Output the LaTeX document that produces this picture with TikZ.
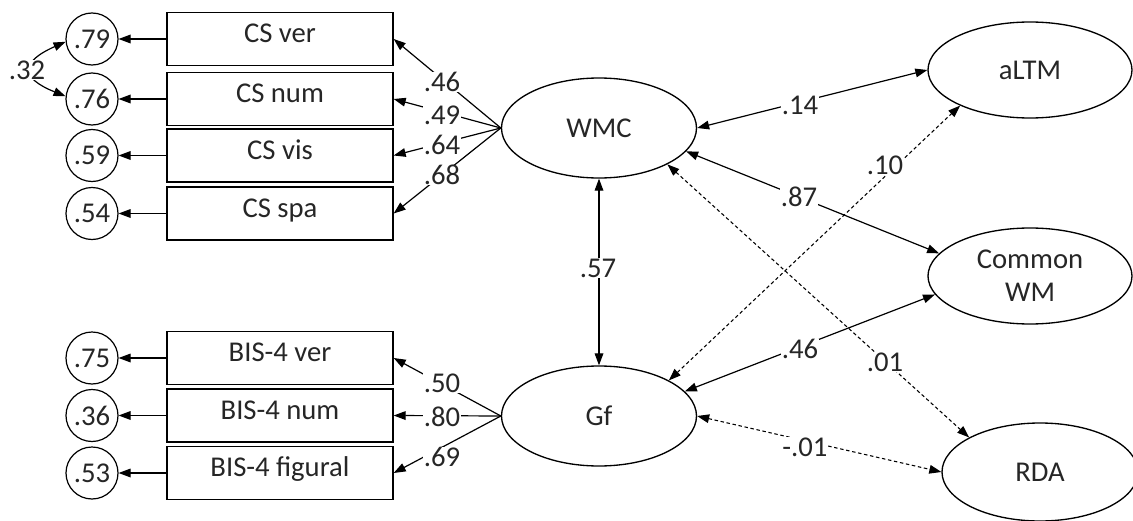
\documentclass[tikz,border=0pt]{standalone}
\usepackage{fontspec}
\setmainfont{Carlito}
\usetikzlibrary{arrows.meta,shapes.geometric}

\begin{document}
\begin{tikzpicture}[x=0.75pt,y=-0.75pt,
  every node/.style={font=\fontsize{21.5}{24.75}\selectfont, text=black!85},
  obs/.style={draw, line width=1pt, minimum width=169.5pt, minimum height=39.75pt,
              inner sep=0pt, text height=1.4ex, text depth=0.15ex},
  err/.style={circle, draw, line width=0.9pt, minimum size=39pt, inner sep=0pt},
  lat/.style={ellipse, draw, line width=1pt, inner sep=0pt,
              minimum width=146.25pt, minimum height=75pt},
  tip/.tip={Triangle[length=9pt,width=6.5pt]},
  arr/.style={-tip, line width=0.9pt},
  dbl/.style={tip-tip, line width=0.9pt},
  dsh/.style={dash pattern=on 2.6pt off 2pt, line width=0.8pt},
  lbl/.style={fill=white, inner sep=0.3pt}]
\useasboundingbox (0,0) rectangle (1133,521);

% indicator boxes
\node[obs] (csver)  at (280,39)    {CS ver};
\node[obs] (csnum)  at (280,99)    {CS num};
\node[obs] (csvis)  at (280,155.5) {CS vis};
\node[obs] (csspa)  at (280,213.5) {CS spa};
\node[obs] (bisver) at (280,358)   {BIS-4 ver};
\node[obs] (bisnum) at (280,415.5) {BIS-4 num};
\node[obs] (bisfig) at (280,473)   {BIS-4 figural};

% residual variances
\node[err] (e1) at (92,39)    {.79};
\node[err] (e2) at (92,99)    {.76};
\node[err] (e3) at (92,155.5) {.59};
\node[err] (e4) at (92,213.5) {.54};
\node[err] (e5) at (92,358)   {.75};
\node[err] (e6) at (92,415.5) {.36};
\node[err] (e7) at (92,473)   {.53};

% latent factors
\node[lat] (wmc) at (599,128) {WMC};
\node[lat] (gf)  at (599,416) {Gf};
\node[lat, minimum width=153pt, minimum height=72pt] (altm) at (1030,70) {aLTM};
\node[lat, minimum width=153pt, minimum height=72pt, align=center] (cwm) at (1030,276) {Common\\WM};
\node[lat, minimum width=147pt, minimum height=73.5pt] (rda) at (1040,472) {RDA};

% residual arrows
\foreach \b/\e in {csver/e1, csnum/e2, csvis/e3, csspa/e4, bisver/e5, bisnum/e6, bisfig/e7}
  \draw[arr] (\b.west) -- (\e.east);

% residual covariance
\draw[dbl] (e1.186) .. controls (20,62) and (20,78) .. (e2.174);

% factor loadings
\foreach \b in {csver, csnum, csvis, csspa}
  \draw[arr] (wmc.west) -- (\b.east);
\foreach \b in {bisver, bisnum, bisfig}
  \draw[arr] (gf.west) -- (\b.east);

% structural paths
\draw[dbl] (wmc.south) -- (gf.north);
\draw[dbl] (wmc.east) -- (altm.west);
\draw[dbl] (wmc.-15) -- (cwm.166);
\draw[dbl, dsh] (wmc.-28) -- (rda.154);
\draw[dbl, dsh] (gf.27.5) -- (altm.207);
\draw[dbl] (gf.16) -- (cwm.191);
\draw[dbl, dsh] (gf.east) -- (rda.west);

% coefficients
\node[lbl] (l32) at (27,70)   {.32};
\node[lbl] (l46a) at (442,82) {.46};
\node[lbl] (l49) at (442,115) {.49};
\node[lbl] (l64) at (442,145) {.64};
\node[lbl] (l68) at (442,175) {.68};
\node[lbl] (l50) at (442,383) {.50};
\node[lbl] (l80) at (442,417) {.80};
\node[lbl] (l69) at (442,457) {.69};
\node[lbl] (l57) at (598,268) {.57};
\node[lbl] (l14) at (800,105) {.14};
\node[lbl] (l87) at (799,197) {.87};
\node[lbl] (l10) at (885,165) {.10};
\node[lbl] (l46b) at (800,349) {.46};
\node[lbl] (l01) at (885,362) {.01};
\node[lbl] (lm01) at (805,447) {-.01};
\end{tikzpicture}
\end{document}
